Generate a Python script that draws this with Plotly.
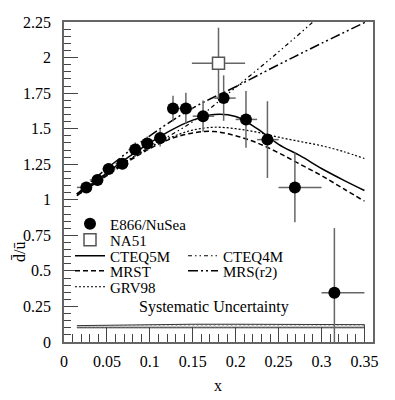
import plotly.graph_objects as go

# E866/NuSea points, x-bin edges and statistical errors
e866_x = [0.026, 0.039, 0.052, 0.068, 0.083, 0.097, 0.112, 0.127, 0.142, 0.162, 0.186, 0.212, 0.237, 0.269, 0.315]
e866_y = [1.087, 1.139, 1.217, 1.254, 1.353, 1.395, 1.435, 1.642, 1.642, 1.588, 1.715, 1.565, 1.423, 1.087, 0.346]
e866_err = [0.04, 0.04, 0.04, 0.04, 0.05, 0.05, 0.06, 0.09, 0.11, 0.11, 0.16, 0.20, 0.27, 0.245, 0.455]
bin_lo = [0.015, 0.030, 0.045, 0.060, 0.075, 0.090, 0.105, 0.120, 0.135, 0.150, 0.175, 0.200, 0.225, 0.250, 0.300]
bin_hi = [0.030, 0.045, 0.060, 0.075, 0.090, 0.105, 0.120, 0.135, 0.150, 0.175, 0.200, 0.225, 0.250, 0.300, 0.350]

na51_x = [0.18]
na51_y = [1.96]
na51_yerr = [0.25]
na51_xerr = [0.031]

# parametrisations
pdf_x = [0.015, 0.03, 0.05, 0.075, 0.1, 0.125, 0.15, 0.175, 0.2, 0.225, 0.25, 0.275, 0.3, 0.325, 0.35]
cteq5m = [1.04, 1.10, 1.19, 1.30, 1.40, 1.49, 1.56, 1.60, 1.585, 1.50, 1.39, 1.31, 1.22, 1.14, 1.065]
mrst = [1.03, 1.09, 1.17, 1.27, 1.36, 1.43, 1.47, 1.48, 1.45, 1.40, 1.33, 1.25, 1.17, 1.08, 0.99]
grv98 = [1.03, 1.09, 1.18, 1.28, 1.37, 1.44, 1.49, 1.51, 1.50, 1.475, 1.44, 1.41, 1.38, 1.34, 1.29]

cteq4m_x = [0.015, 0.05, 0.1, 0.15, 0.2, 0.25, 0.29, 0.32, 0.35]
cteq4m = [1.04, 1.18, 1.37, 1.55, 1.79, 2.04, 2.25, 2.41, 2.58]
mrsr2_x = [0.015, 0.05, 0.1, 0.15, 0.2, 0.25, 0.3, 0.355]
mrsr2 = [1.04, 1.22, 1.45, 1.645, 1.795, 1.95, 2.10, 2.26]

# systematic uncertainty band
sys_x = [0.015, 0.05, 0.1, 0.15, 0.2, 0.25, 0.3, 0.35]
sys_lo = [0.10, 0.10, 0.10, 0.10, 0.10, 0.10, 0.10, 0.10]
sys_hi = [0.115, 0.118, 0.122, 0.125, 0.125, 0.125, 0.120, 0.122]

FONT = "Liberation Serif, Times New Roman, serif"
ERR = "#666666"
# page has an 8px body margin, so the figure is a bit smaller than the window
OFF = 8
W, H = 387, 392
L, R, T, B = 56, 22, 14, 58
PW, PH = W - L - R, H - T - B


def px_x(px):
    return (px - OFF - L) / PW


def px_y(py):
    return (H - B - (py - OFF)) / PH


def leg(px, py):
    """one-row legend box placed by page pixel position"""
    return dict(
        x=px_x(px), y=px_y(py), xanchor="left", yanchor="middle",
        bgcolor="rgba(0,0,0,0)", itemwidth=30,
        font=dict(family=FONT, size=15, color="black"),
    )


fig = go.Figure()

fig.add_scatter(
    x=sys_x + sys_x[::-1], y=sys_hi + sys_lo[::-1],
    fill="toself", mode="lines", showlegend=False,
    line=dict(color="#333", width=1),
    fillcolor="white",
    fillpattern=dict(shape="x", size=3, solidity=0.5, fgcolor="#333", bgcolor="white"),
)

fig.add_scatter(x=pdf_x, y=cteq5m, mode="lines", name="CTEQ5M", legend="legend3",
                line=dict(color="black", width=1.5, shape="spline"))
fig.add_scatter(x=pdf_x, y=mrst, mode="lines", name="MRST", legend="legend4",
                line=dict(color="black", width=1.5, dash="5px,3px", shape="spline"))
fig.add_scatter(x=pdf_x, y=grv98, mode="lines", name="GRV98", legend="legend5",
                line=dict(color="black", width=1.2, dash="2px,2px", shape="spline"))
fig.add_scatter(x=cteq4m_x, y=cteq4m, mode="lines", name="CTEQ4M", legend="legend6",
                line=dict(color="black", width=1.2, dash="4px,3px,1.5px,3px,1.5px,3px", shape="spline"))
fig.add_scatter(x=mrsr2_x, y=mrsr2, mode="lines", name="MRS(r2)", legend="legend7",
                line=dict(color="black", width=1.5, dash="10px,3px,2px,3px,2px,3px", shape="spline"))

fig.add_scatter(
    x=e866_x, y=e866_y, mode="markers", name="E866/NuSea", legend="legend",
    marker=dict(symbol="circle", size=12, color="black"),
    error_y=dict(type="data", array=e866_err, color=ERR, thickness=1.5, width=0),
    error_x=dict(type="data", symmetric=False,
                 array=[h - x for h, x in zip(bin_hi, e866_x)],
                 arrayminus=[x - l for l, x in zip(bin_lo, e866_x)],
                 color=ERR, thickness=1.5, width=0),
)
fig.add_scatter(
    x=na51_x, y=na51_y, mode="markers", name="NA51", legend="legend2",
    marker=dict(symbol="square", size=12, color="white", line=dict(color="#555", width=1.5)),
    error_y=dict(type="data", array=na51_yerr, color=ERR, thickness=1.5, width=0),
    error_x=dict(type="data", array=na51_xerr, color=ERR, thickness=1.5, width=0),
)

fig.add_annotation(x=0.1744, y=0.247, text="Systematic Uncertainty", showarrow=False,
                   font=dict(family=FONT, size=16, color="black"))
fig.add_annotation(xref="paper", yref="paper", x=px_x(218), y=px_y(385),
                   xanchor="center", yanchor="middle",
                   text="x", showarrow=False, font=dict(family=FONT, size=16, color="black"))
fig.add_annotation(xref="paper", yref="paper", x=px_x(19), y=px_y(252),
                   xanchor="center", yanchor="middle",
                   text="d\u0304/\u016b", textangle=-90, showarrow=False,
                   font=dict(family=FONT, size=16, color="black"))

fig.update_layout(
    width=W, height=H,
    margin=dict(l=L, r=R, t=T, b=B, autoexpand=False),
    plot_bgcolor="white", paper_bgcolor="white",
    font=dict(family=FONT, size=16, color="black"),
    legend=leg(70, 224), legend2=leg(70, 240), legend3=leg(70, 256),
    legend4=leg(70, 271), legend5=leg(70, 287),
    legend6=leg(183, 256), legend7=leg(183, 271),
)
fig.update_xaxes(
    range=[0, 0.36], tick0=0, dtick=0.05,
    ticks="inside", ticklen=15, tickwidth=1, tickcolor="#444",
    minor=dict(ticks="inside", ticklen=8, dtick=0.01, tickcolor="#444"),
    showline=True, linecolor="#666", linewidth=1.5, mirror=True,
    showgrid=False, zeroline=False, ticklabelstandoff=4,
)
fig.update_yaxes(
    range=[0, 2.25], tick0=0, dtick=0.25,
    ticks="inside", ticklen=14, tickwidth=1, tickcolor="#444",
    minor=dict(ticks="inside", ticklen=7, dtick=0.05, tickcolor="#444"),
    showline=True, linecolor="#666", linewidth=1.5, mirror=True,
    showgrid=False, zeroline=False, ticklabelstandoff=8,
)

fig.write_html("out.html")
